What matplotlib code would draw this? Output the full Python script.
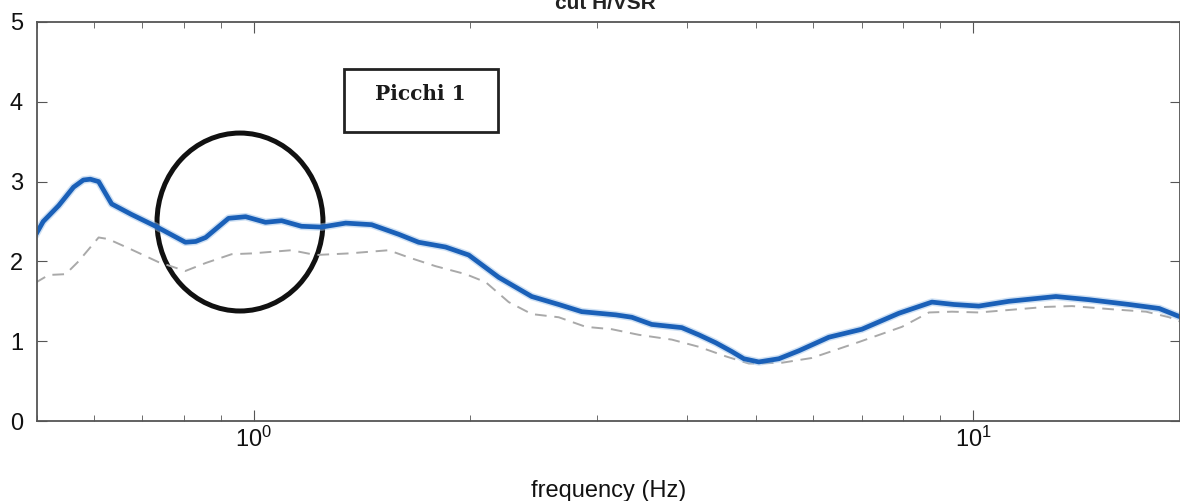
import numpy as np
import matplotlib.pyplot as plt
from matplotlib.patches import Ellipse, Rectangle

plt.rcParams['font.family'] = ['Liberation Sans', 'DejaVu Sans']

# H/V spectral ratio, mean curve (Hz, amplitude)
freq_mean = [0.497, 0.510, 0.519, 0.536, 0.562, 0.580, 0.593, 0.609, 0.635, 0.676,
             0.731, 0.774, 0.804, 0.831, 0.858, 0.923, 0.975, 1.039, 1.094, 1.166,
             1.243, 1.343, 1.459, 1.591, 1.696, 1.849, 1.991, 2.192, 2.436, 2.656,
             2.859, 3.188, 3.356, 3.577, 3.938, 4.158, 4.391, 4.622, 4.803, 5.039,
             5.373, 5.728, 6.306, 7.009, 7.889, 8.770, 9.410, 10.19, 11.22, 13.04,
             14.50, 16.48, 18.15, 19.35]
hv_mean = [2.32, 2.50, 2.57, 2.70, 2.93, 3.02, 3.03, 3.00, 2.72, 2.59,
           2.44, 2.32, 2.24, 2.25, 2.30, 2.54, 2.56, 2.49, 2.51, 2.44,
           2.43, 2.48, 2.46, 2.34, 2.24, 2.18, 2.08, 1.80, 1.56, 1.46,
           1.37, 1.33, 1.30, 1.21, 1.17, 1.08, 0.98, 0.87, 0.78, 0.74,
           0.78, 0.88, 1.05, 1.15, 1.35, 1.49, 1.46, 1.44, 1.50, 1.56,
           1.52, 1.46, 1.41, 1.31]

# lower bound (mean - std)
freq_low = [0.497, 0.519, 0.548, 0.571, 0.609, 0.628, 0.676, 0.738, 0.804, 0.858,
            0.932, 0.994, 1.129, 1.220, 1.356, 1.541, 1.643, 1.791, 1.972, 2.102,
            2.263, 2.436, 2.656, 2.896, 3.148, 3.432, 3.814, 4.158, 4.534, 4.881,
            5.426, 5.972, 6.943, 7.967, 8.686, 9.351, 10.19, 12.64, 13.73, 15.61,
            17.40, 18.74, 19.35]
hv_low = [1.73, 1.83, 1.84, 2.00, 2.30, 2.28, 2.15, 1.99, 1.88, 1.98,
          2.09, 2.10, 2.14, 2.08, 2.10, 2.14, 2.05, 1.94, 1.84, 1.74,
          1.49, 1.34, 1.30, 1.18, 1.15, 1.08, 1.02, 0.93, 0.81, 0.72,
          0.73, 0.79, 0.99, 1.18, 1.36, 1.37, 1.36, 1.43, 1.44, 1.40,
          1.37, 1.30, 1.25]

fig = plt.figure(figsize=(11.8, 5.01), dpi=100)
ax = fig.add_axes([37 / 1180, 1 - 421 / 501, 1143 / 1180, 399 / 501])

ax.plot(freq_low, hv_low, color='#a9a9a9', lw=1.4, ls=(0, (6, 4)))
ax.plot(freq_mean, hv_mean, color='#9fc2e8', lw=5.5, alpha=0.5, solid_capstyle='round')
ax.plot(freq_mean, hv_mean, color='#1a60b8', lw=3.4, solid_capstyle='round')

ax.set_xscale('log')
ax.set_xlim(0.5, 19.4)
ax.set_ylim(0, 5)
ax.set_yticks([0, 1, 2, 3, 4, 5])

for side in ax.spines.values():
    side.set_color('#555555')
    side.set_linewidth(1.3)

ax.tick_params(axis='both', which='both', direction='in', colors='#555555',
               labelcolor='#111111', labelsize=17)
ax.tick_params(axis='x', which='major', length=8, top=True, pad=4)
ax.tick_params(axis='x', which='minor', length=4, top=True)
ax.tick_params(axis='y', which='major', length=7, right=True, pad=10)

ax.set_xlabel('frequency (Hz)', fontsize=17, labelpad=20, color='#111111')

# highlighted peak
ax.add_patch(Ellipse((0.1776, 0.4987), 0.1452, 0.446, transform=ax.transAxes,
                     fill=False, ec='#111111', lw=3.6))

# label box
ax.add_patch(Rectangle(((344 - 37) / 1143, (421 - 132) / 399), 154 / 1143, 63 / 399,
                       transform=ax.transAxes, fill=False, ec='#222222', lw=2.0))
ax.text((420 - 37) / 1143, (421 - 94) / 399, 'Picchi 1', transform=ax.transAxes,
        ha='center', va='center', fontsize=14.5, fontweight='bold',
        family='DejaVu Serif', color='#1a1a1a')

fig.text(0.513, 0.983, 'cut H/VSR', ha='center', va='baseline', fontsize=15,
         fontweight='bold', color='#222222')

fig.savefig('out.png', dpi=100)
